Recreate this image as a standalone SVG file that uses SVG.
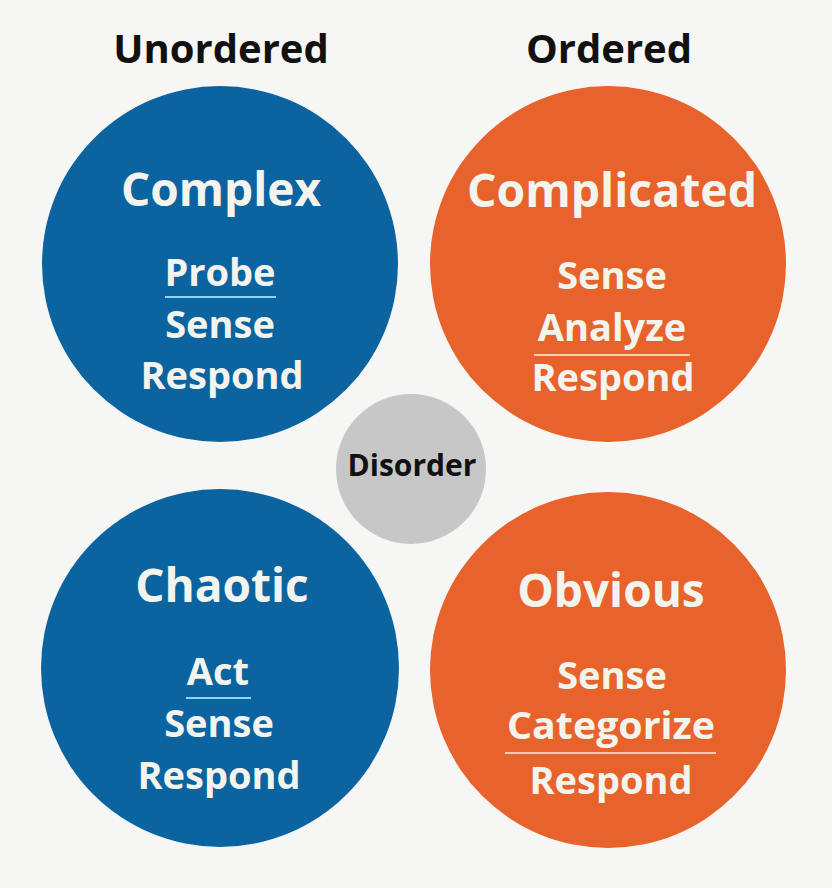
<svg xmlns="http://www.w3.org/2000/svg" width="832" height="888" viewBox="0 0 832 888">
<style>
  .hdr { font-family: "Open Sans", "Liberation Sans", sans-serif; font-weight: 700; font-size: 40px; fill: #111111; text-anchor: middle; }
  .title { font-family: "Open Sans", "Liberation Sans", sans-serif; font-weight: 700; font-size: 46px; fill: #f4f4ee; text-anchor: middle; }
  .step { font-family: "Open Sans", "Liberation Sans", sans-serif; font-weight: 700; font-size: 38px; fill: #f4f4ee; text-anchor: middle; }
  .dis { font-family: "Open Sans", "Liberation Sans", sans-serif; font-weight: 700; font-size: 30px; fill: #111111; text-anchor: middle; }
  .blue { fill: #0b64a0; }
  .orange { fill: #e8622b; }
  .gray { fill: #c7c7c7; }
  .ulb { stroke: #8fd2f2; stroke-width: 2; }
  .ulo { stroke: #f6cdb0; stroke-width: 2; }
</style>
<rect x="0" y="0" width="832" height="888" fill="#f6f6f4"/>
<g id="connectors"/>
<g id="header-unordered"><text class="hdr" x="221" y="63">Unordered</text></g>
<g id="header-ordered"><text class="hdr" x="609" y="63">Ordered</text></g>

<g id="complex">
  <circle class="blue" cx="220" cy="264" r="178"/>
  <text class="title" x="221" y="206" textLength="200" lengthAdjust="spacingAndGlyphs">Complex</text>
  <text class="step" x="220" y="286">Probe</text>
  <line class="ulb" x1="165" y1="297" x2="276" y2="297"/>
  <text class="step" x="220" y="338">Sense</text>
  <text class="step" x="222" y="389">Respond</text>
</g>

<g id="complicated">
  <circle class="orange" cx="608" cy="264" r="178"/>
  <text class="title" x="612" y="207" textLength="290" lengthAdjust="spacingAndGlyphs">Complicated</text>
  <text class="step" x="612" y="289">Sense</text>
  <text class="step" x="612" y="341">Analyze</text>
  <line class="ulo" x1="534" y1="355" x2="690" y2="355"/>
  <text class="step" x="613" y="391">Respond</text>
</g>

<g id="disorder">
  <circle class="gray" cx="411" cy="469" r="75"/>
  <text class="dis" x="412" y="476">Disorder</text>
</g>

<g id="chaotic">
  <circle class="blue" cx="220" cy="668" r="179"/>
  <text class="title" x="222" y="602">Chaotic</text>
  <text class="step" x="218" y="685">Act</text>
  <line class="ulb" x1="186" y1="698" x2="251" y2="698"/>
  <text class="step" x="219" y="737">Sense</text>
  <text class="step" x="219" y="789">Respond</text>
</g>

<g id="obvious">
  <circle class="orange" cx="608" cy="670" r="178"/>
  <text class="title" x="611" y="607">Obvious</text>
  <text class="step" x="612" y="689">Sense</text>
  <text class="step" x="611" y="739" textLength="208" lengthAdjust="spacingAndGlyphs">Categorize</text>
  <line class="ulo" x1="505" y1="753" x2="716" y2="753"/>
  <text class="step" x="611" y="794">Respond</text>
</g>
</svg>
